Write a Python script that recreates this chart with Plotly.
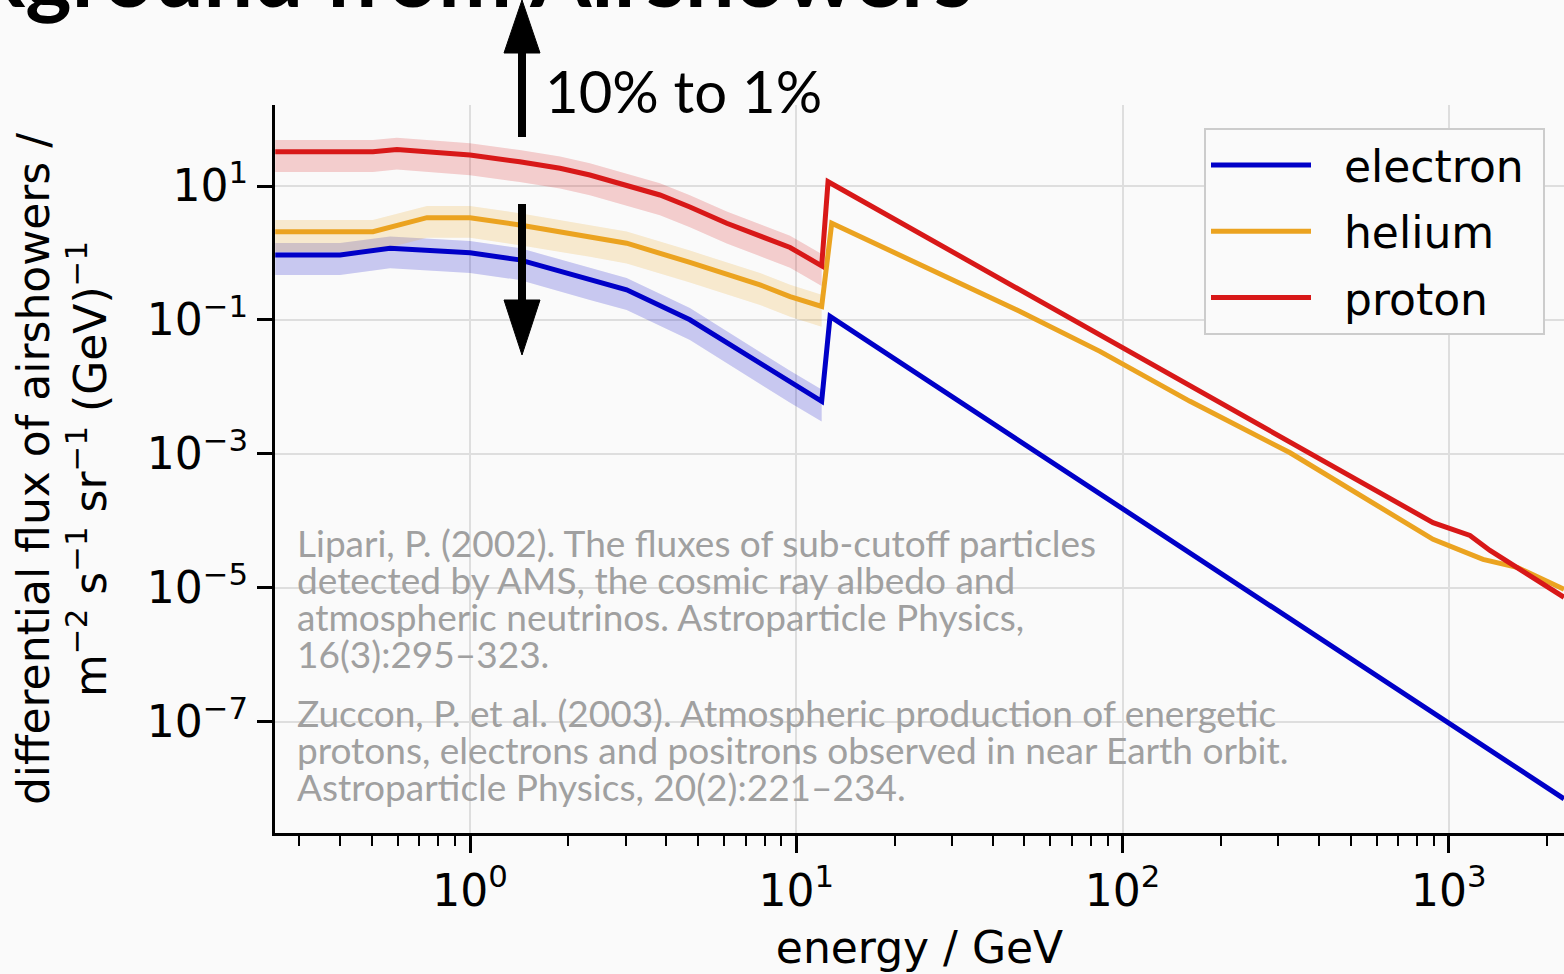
import plotly.graph_objects as go

# ---------------- data ----------------
electron_energy = [0.253, 0.40, 0.569, 1.0, 1.42, 2.33, 3.02, 4.72, 7.74, 9.57, 11.96,
                   12.69, 20.8, 42.1, 85.2, 172.7, 350.0, 708.0, 1434.0, 2253.0]
electron_flux = [0.937, 0.937, 1.18, 1.01, 0.79, 0.397, 0.282, 0.1007, 0.0222, 0.01159, 0.0061,
                 0.113, 0.0232, 2.42e-3, 2.52e-4, 2.64e-5, 2.75e-6, 2.88e-7, 3.0e-8, 7.08e-9]

helium_energy = [0.253, 0.504, 0.738, 1.0, 1.42, 2.33, 3.02, 4.72, 7.74, 9.57, 11.96,
                 12.84, 48.5, 85.2, 160.9, 326.0, 894.0, 1272.0, 1617.0, 2253.0]
helium_flux = [2.08, 2.08, 3.37, 3.37, 2.62, 1.755, 1.40, 0.724, 0.335, 0.224, 0.159,
               2.78, 0.134, 0.0340, 6.1e-3, 1.04e-3, 5.3e-5, 2.67e-5, 2.03e-5, 9.53e-6]

proton_energy = [0.253, 0.504, 0.597, 1.0, 1.42, 1.887, 2.33, 3.82, 4.72, 6.12, 9.57, 11.96,
                 12.51, 48.5, 85.2, 160.9, 350.0, 894.0, 1160.0, 1336.0, 2253.0]
proton_flux = [32.4, 32.4, 35.2, 29.0, 23.0, 18.4, 14.6, 7.35, 4.86, 2.78, 1.21, 0.643,
               11.6, 0.282, 0.0602, 0.01045, 1.245e-3, 9.4e-5, 6.08e-5, 3.63e-5, 7.24e-6]

series_names = ["electron", "helium", "proton"]
band_max_energy = 12.2          # uncertainty band drawn below the cutoff only
band_relative_uncertainty = 0.5  # +-50 % band

x_tick_values = [1, 10, 100, 1000]
x_tick_labels = ["10<sup>0</sup>", "10<sup>1</sup>", "10<sup>2</sup>", "10<sup>3</sup>"]
y_tick_values = [10, 0.1, 1e-3, 1e-5, 1e-7]
y_tick_labels = ["10<sup>1</sup>", "10<sup>−1</sup>", "10<sup>−3</sup>", "10<sup>−5</sup>", "10<sup>−7</sup>"]

ref_lipari = ["Lipari, P. (2002). The fluxes of sub-cutoff particles",
              "detected by AMS, the cosmic ray albedo and",
              "atmospheric neutrinos. Astroparticle Physics,",
              "16(3):295–323."]
ref_zuccon = ["Zuccon, P. et al. (2003). Atmospheric production of energetic",
              "protons, electrons and positrons observed in near Earth orbit.",
              "Astroparticle Physics, 20(2):221–234."]

# ---------------- styling ----------------
W, H = 1564, 974
ML, MR, MT, MB = 275, 0, 105, 141
PW, PH = W - ML - MR, H - MT - MB
BG = "#fafafa"
colors = {"electron": "#0000c8", "helium": "#eba320", "proton": "#d81818"}
band_colors = {"electron": "rgba(0,0,200,0.2)", "helium": "rgba(235,163,32,0.2)",
               "proton": "rgba(216,24,24,0.2)"}
AX_FONT = dict(family="DejaVu Sans", size=44, color="black")
NB = "\u00a0"


def px2x(px):
    return (px - ML) / PW


def py2y(py):
    return (H - MB - py) / PH


data = {
    "electron": (electron_energy, electron_flux),
    "helium": (helium_energy, helium_flux),
    "proton": (proton_energy, proton_flux),
}

fig = go.Figure()

# uncertainty bands
for name in series_names:
    e, f = data[name]
    e_low = [v for v in e if v <= band_max_energy]
    f_low = f[:len(e_low)]
    upper = [v * (1 + band_relative_uncertainty) for v in f_low]
    lower = [v * (1 - band_relative_uncertainty) for v in f_low]
    fig.add_trace(go.Scatter(
        x=e_low + e_low[::-1], y=upper + lower[::-1], fill="toself",
        fillcolor=band_colors[name], line=dict(width=0), mode="lines",
        showlegend=False, hoverinfo="skip"))

# lines
for name in series_names:
    e, f = data[name]
    fig.add_trace(go.Scatter(
        x=e, y=f, mode="lines", name=NB * 2 + name + NB, legendgroup=name,
        line=dict(color=colors[name], width=5)))

minor_vals = [m * 10 ** k for k in range(-1, 4) for m in range(2, 10)]

fig.update_xaxes(
    type="log", range=[-0.5976, 3.3527],
    showline=True, linecolor="black", linewidth=3, mirror=False,
    ticks="outside", ticklen=17, tickwidth=3, tickcolor="black",
    tickmode="array", tickvals=x_tick_values, ticktext=x_tick_labels,
    tickfont=AX_FONT, showgrid=True, gridcolor="#dedede", gridwidth=2,
    zeroline=False,
    minor=dict(ticks="outside", ticklen=10, tickwidth=2, tickcolor="black",
               tickmode="array", tickvals=minor_vals, showgrid=False),
    title=dict(text="energy / GeV", font=AX_FONT, standoff=18),
)
fig.update_yaxes(
    type="log", range=[-8.66, 2.21],
    showline=True, linecolor="black", linewidth=3, mirror=False,
    ticks="outside", ticklen=15, tickwidth=3, tickcolor="black",
    tickmode="array", tickvals=y_tick_values, ticktext=y_tick_labels,
    tickfont=AX_FONT, showgrid=True, gridcolor="#dedede", gridwidth=2,
    zeroline=False,
    title=dict(text="differential flux of airshowers /<br>m<sup>−2</sup> s<sup>−1</sup> sr<sup>−1</sup> (GeV)<sup>−1</sup>",
               font=AX_FONT, standoff=27),
)

annotations = []
REF_FONT = dict(family="Lato", size=37, color="#a0a0a0")
# reference texts
for i, line in enumerate(ref_lipari):
    annotations.append(dict(xref="paper", yref="paper", x=px2x(295), y=py2y(542 + 37 * i),
                            xanchor="left", yanchor="middle", showarrow=False, text=line,
                            font=REF_FONT))
for i, line in enumerate(ref_zuccon):
    annotations.append(dict(xref="paper", yref="paper", x=px2x(295), y=py2y(712 + 37 * i),
                            xanchor="left", yanchor="middle", showarrow=False, text=line,
                            font=REF_FONT))
# "10% to 1%"
annotations.append(dict(xref="paper", yref="paper", x=px2x(543), y=py2y(90),
                        xanchor="left", yanchor="middle", showarrow=False, text="10% to 1%",
                        font=dict(family="Lato", size=58, color="black")))
# slide title (cut off at the top)
annotations.append(dict(xref="paper", yref="paper", x=px2x(975), y=py2y(28),
                        xanchor="right", yanchor="bottom", showarrow=False,
                        text="<b>Background from Airshowers</b>",
                        font=dict(family="Lato", size=88, color="black")))

shapes = []
ax_x = 522
# up arrow
shapes.append(dict(type="line", xref="paper", yref="paper", x0=px2x(ax_x), x1=px2x(ax_x),
                   y0=py2y(137), y1=py2y(45), line=dict(color="black", width=8)))
shapes.append(dict(type="path", xref="paper", yref="paper",
                   path=f"M{px2x(ax_x - 18)},{py2y(53)} L{px2x(ax_x + 18)},{py2y(53)} L{px2x(ax_x)},{py2y(0)} Z",
                   fillcolor="black", line=dict(color="black", width=1)))
# down arrow
shapes.append(dict(type="line", xref="paper", yref="paper", x0=px2x(ax_x), x1=px2x(ax_x),
                   y0=py2y(204), y1=py2y(305), line=dict(color="black", width=8)))
shapes.append(dict(type="path", xref="paper", yref="paper",
                   path=f"M{px2x(ax_x - 18)},{py2y(300)} L{px2x(ax_x + 18)},{py2y(300)} L{px2x(ax_x)},{py2y(355)} Z",
                   fillcolor="black", line=dict(color="black", width=1)))

fig.update_layout(
    width=W, height=H,
    margin=dict(l=ML, r=MR, t=MT, b=MB, pad=0),
    paper_bgcolor=BG, plot_bgcolor=BG,
    font=dict(family="DejaVu Sans", color="black"),
    showlegend=True,
    legend=dict(x=px2x(1204), y=py2y(128), xanchor="left", yanchor="top",
                bgcolor=BG, bordercolor="#cccccc", borderwidth=2,
                font=dict(family="DejaVu Sans", size=44, color="black"),
                itemwidth=100, tracegroupgap=6, traceorder="grouped"),
    annotations=annotations,
    shapes=shapes,
)

fig.write_html("out.html", config={"displayModeBar": False},
               post_script="document.body.style.margin='0px';document.body.style.padding='0px';")
